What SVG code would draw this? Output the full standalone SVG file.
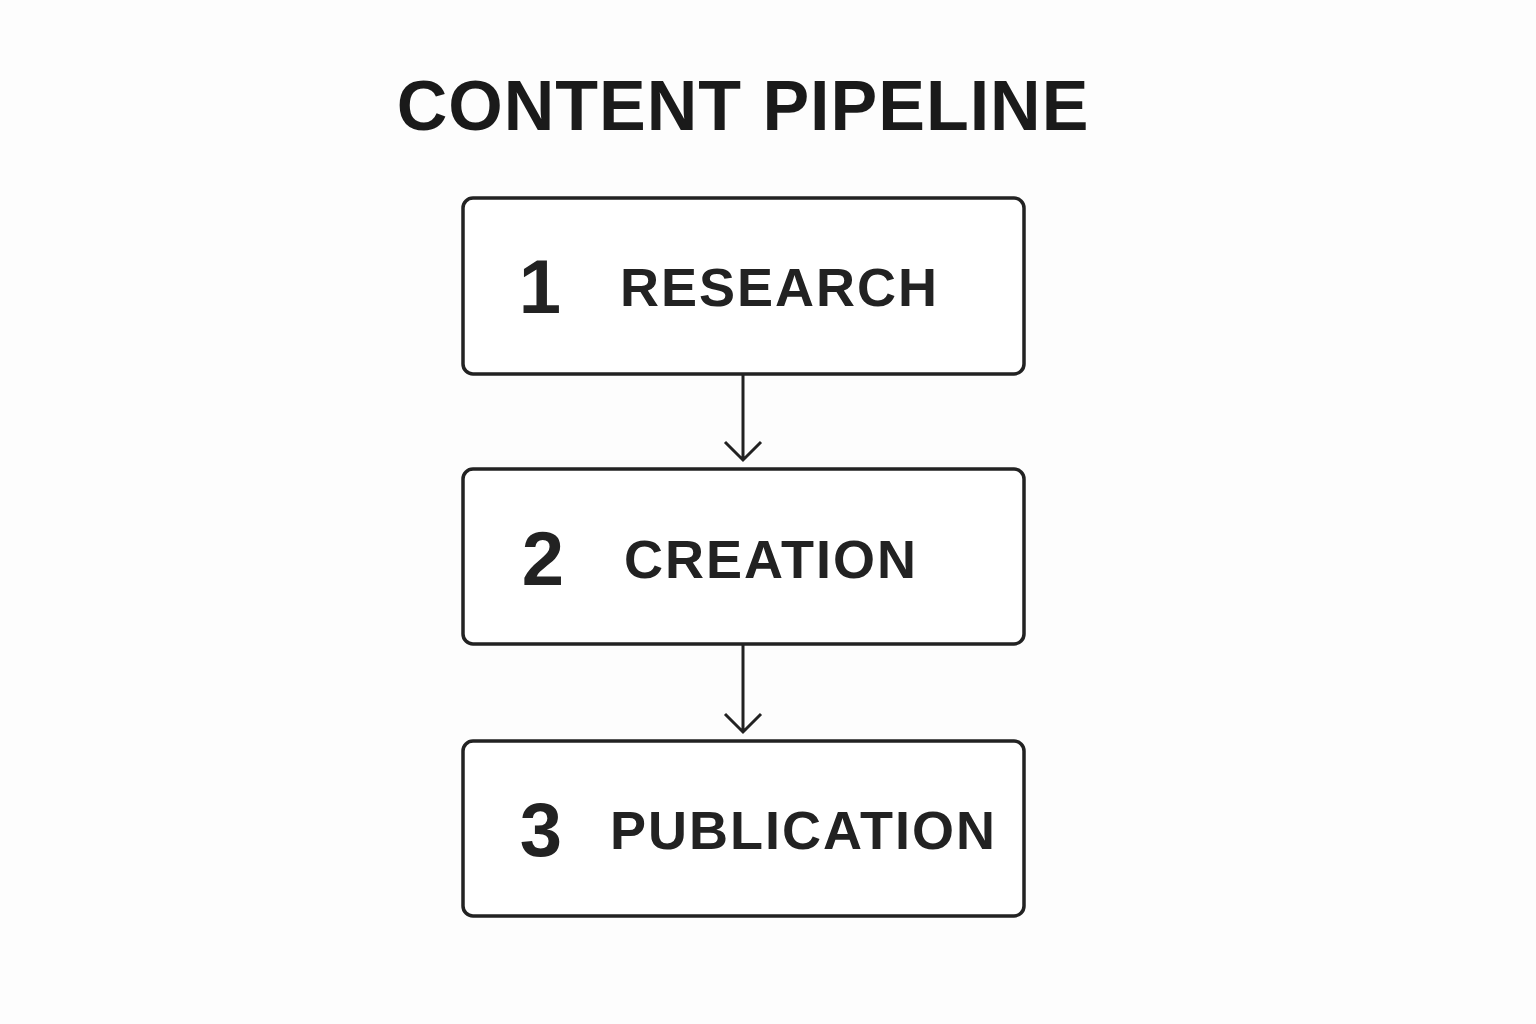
<svg xmlns="http://www.w3.org/2000/svg" width="1536" height="1024" viewBox="0 0 1536 1024">
<defs>
<style>
.box{fill:#fff;stroke:#222;stroke-width:3.5}
.num{font-family:"Liberation Sans",Arial,sans-serif;font-weight:bold;font-size:76px;fill:#222}
.lbl{font-family:"Liberation Sans",Arial,sans-serif;font-weight:bold;font-size:54px;fill:#222;letter-spacing:2px}
.c{stroke:#222;stroke-width:3;fill:none}
</style>
<marker id="ah" markerWidth="24" markerHeight="24" refX="12" refY="20" orient="auto" markerUnits="userSpaceOnUse" viewBox="0 0 24 24">
<path d="M1 2 L12 20 L23 2" transform="rotate(-90 12 12)" fill="none" stroke="#222" stroke-width="3"/>
</marker>
</defs>
<rect width="1536" height="1024" fill="#fdfdfd"/>
<text x="743" y="130" text-anchor="middle" font-family="Liberation Sans,Arial,sans-serif" font-weight="bold" font-size="70" fill="#1a1a1a" letter-spacing="1">CONTENT PIPELINE</text>
<g id="connectors">
<path class="c" d="M743 375 V460 M725 442 L743 460 L761 442"/>
<path class="c" d="M743 645 V732 M725 714 L743 732 L761 714"/>
</g>
<g id="n1"><rect class="box" x="463" y="198" width="561" height="176" rx="10"/><text class="num" x="540" y="313" text-anchor="middle">1</text><text class="lbl" x="620" y="306">RESEARCH</text></g>
<g id="n2"><rect class="box" x="463" y="469" width="561" height="175" rx="10"/><text class="num" x="543" y="585" text-anchor="middle">2</text><text class="lbl" x="624" y="578">CREATION</text></g>
<g id="n3"><rect class="box" x="463" y="741" width="561" height="175" rx="10"/><text class="num" x="541" y="856" text-anchor="middle">3</text><text class="lbl" x="610" y="849">PUBLICATION</text></g>
</svg>
